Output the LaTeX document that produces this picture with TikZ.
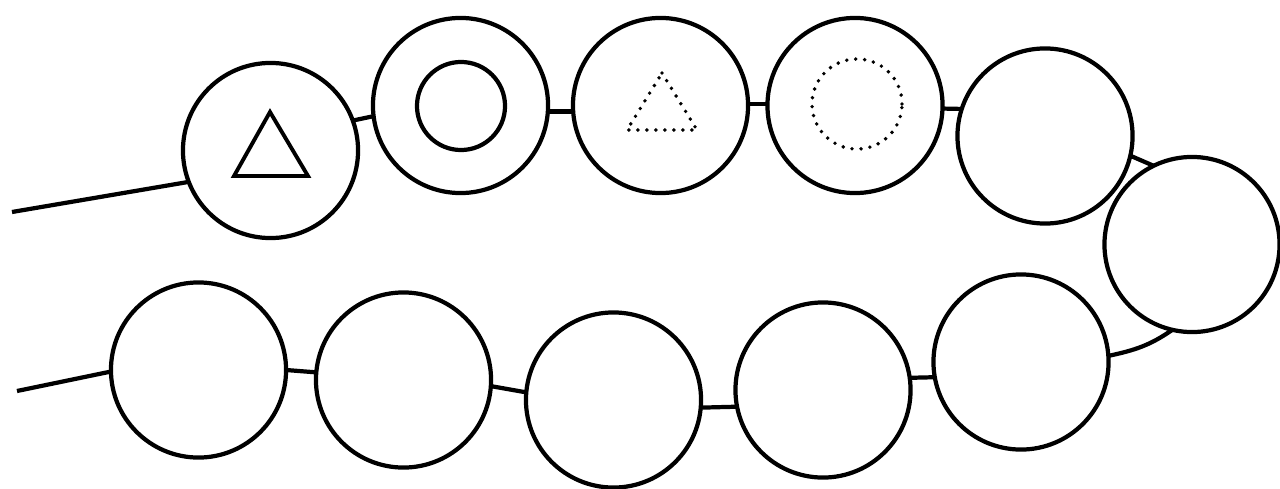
\documentclass[tikz,border=0pt]{standalone}
\begin{document}
\begin{tikzpicture}[x=0.01cm,y=-0.01cm,
  bead/.style={circle,draw,line width=1.2pt,minimum size=1.75cm,inner sep=0pt,outer sep=0pt},
  link/.style={line width=1.2pt},
  solidmark/.style={line width=1.1pt,line join=miter},
  dotmark/.style={line width=1.1pt,line cap=round,dash pattern=on 0pt off 0.9mm}]
\useasboundingbox (0,0) rectangle (1280,488);
% beads
\node[bead] (c1) at (270.5,150.5) {};
\node[bead] (c2) at (460.5,105.5) {};
\node[bead] (c3) at (660.5,105.5) {};
\node[bead] (c4) at (855,105.5) {};
\node[bead] (c5) at (1045,136) {};
\node[bead] (c6) at (1192,244.5) {};
\node[bead] (c7) at (1021,362) {};
\node[bead] (c8) at (823,390) {};
\node[bead] (c9) at (613.5,400) {};
\node[bead] (c10) at (403.5,380) {};
\node[bead] (c11) at (198.5,370) {};
% free ends
\coordinate (s) at (12,212);
\coordinate (e) at (17,391);
% connectors
\draw[link] (s) -- (c1.201);
\draw[link] (c1.20) -- (c2.187);
\draw[link] (c2.-4) -- (c3.184);
\draw[link] (c3.1) -- (c4.179);
\draw[link] (c4.-2) -- (c5.162);
\draw[link] (c5.-13) -- (c6.116);
\draw[link] (c6.257) to[out=215,in=12] (c7.4.5);
\draw[link] (c7.190) -- (c8.8);
\draw[link] (c8.191) -- (c9.-5);
\draw[link] (c9.175) -- (c10.-4.5);
\draw[link] (c10.175) -- (c11.0);
\draw[link] (c11.181) -- (e);
% marks inside beads
\draw[solidmark] (270,112) -- (308,176) -- (234,176) -- cycle;
\node[circle,draw,line width=1.2pt,minimum size=0.88cm,inner sep=0pt] (m2) at (461,106) {};
\draw[dotmark] (662,73) -- (697,130) -- (627,130) -- cycle;
\draw[dotmark] (857,104) circle[radius=0.45cm];
\end{tikzpicture}
\end{document}
